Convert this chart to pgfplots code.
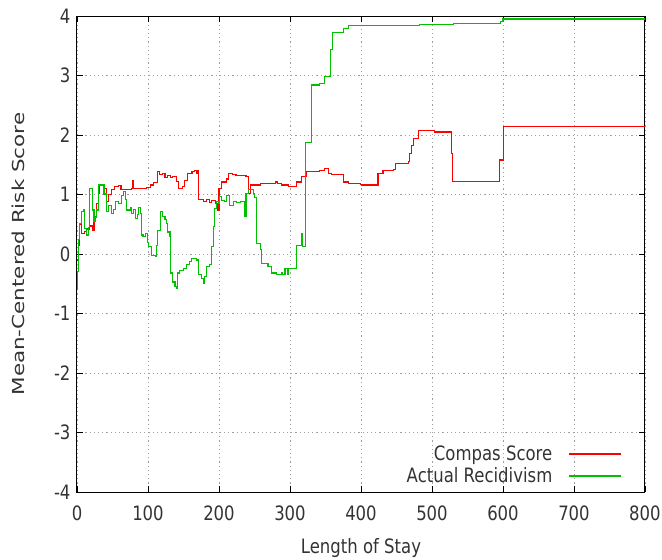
\documentclass[border=0pt]{standalone}
\usepackage{pgfplots}
\pgfplotsset{compat=1.18}
\usepackage{fontspec}
\setmainfont{DejaVu Sans}
\usepackage{graphicx}
\definecolor{compasred}{RGB}{255,0,0}
\definecolor{recidgreen}{RGB}{0,192,0}
\definecolor{gridgray}{RGB}{160,160,160}
\newcommand\fsz{\fontsize{16.5}{19.8}\selectfont}
\newcommand\vs[1]{\scalebox{1}[1.2]{#1}}

\begin{document}
\begin{tikzpicture}
\useasboundingbox (-77pt,-68pt) rectangle (585pt,492pt);
\begin{axis}[
  scale only axis, width=568pt, height=476pt,
  at={(0,0)}, anchor=south west,
  xmin=0, xmax=800, ymin=-4, ymax=4,
  xtick={0,100,...,800}, ytick={-4,-3,...,4},
  xticklabels={\vs{0},\vs{100},\vs{200},\vs{300},\vs{400},\vs{500},\vs{600},\vs{700},\vs{800}},
  yticklabels={\vs{-4},\vs{-3},\vs{-2},\vs{-1},\vs{0},\vs{1},\vs{2},\vs{3},\vs{4}},
  every tick label/.append style={font=\fsz, text=black!80},
  xticklabel style={yshift=-10pt},
  yticklabel style={xshift=-3pt},
  tick align=inside, major tick length=6pt,
  tick style={black, line width=0.9pt},
  axis line style={black, line width=1pt},
  grid=major,
  major grid style={gridgray, line width=0.9pt, dash pattern=on 1.2pt off 3pt},
  xlabel={\vs{Length of Stay}},
  xlabel style={font=\fsz, text=black!80, at={(axis description cs:0.5,0)}, anchor=base, yshift=-61pt},
  ylabel={\scalebox{1.3}[1]{Mean-Centered Risk Score}},
  ylabel style={font=\fsz, text=black!80, at={(axis description cs:-0.104,0.5)}, anchor=center},
  legend style={at={(axis description cs:0.9595,0.0158)}, anchor=south east,
    draw=none, fill=none, inner sep=0pt, row sep=5.5pt, column sep=16pt,
    font=\fsz, text=black!80, nodes={inner sep=0pt}},
  legend cell align=right, legend plot pos=right,
  legend image code/.code={\draw[#1, line width=1.5pt] (0pt,0pt) -- (52pt,0pt);},
  every axis plot/.append style={line width=1.1pt, const plot mark left},
]
% Compas score, mean-centred
\addplot[color=compasred] coordinates {
(0,-0.1) (2,0.15) (4,0.5) (6,0.35) (10,0.38) (14,0.42) (18,0.47) (22,0.40)
(24,0.63) (27,0.85) (30,1.02) (32,1.16) (38,1.10) (41,1.0) (42,0.88) (45,1.0)
(48,1.08) (53,1.13) (59,1.15) (62,1.09) (70,1.08) (77,1.10) (78,1.24) (80,1.10)
(92,1.10) (98,1.12) (104,1.16) (108,1.20) (113,1.38) (116,1.33) (120,1.35)
(124,1.29) (128,1.32) (132,1.28) (135,1.31) (140,1.22) (143,1.10) (148,1.14)
(152,1.24) (156,1.36) (162,1.38) (166,1.41) (169,1.36) (170,1.41) (171,0.91)
(178,0.88) (182,0.91) (186,0.86) (190,0.90) (195,0.85) (198,0.74) (200,1.10)
(203,1.21) (210,1.26) (214,1.36) (219,1.33) (224,1.32) (238,1.30) (241,1.02)
(245,1.16) (258,1.19) (279,1.21) (283,1.19) (288,1.16) (298,1.13) (309,1.21)
(316,1.30) (323,1.39) (342,1.41) (349,1.44) (354,1.36) (358,1.34) (375,1.21)
(382,1.19) (399,1.17) (401,1.16) (424,1.36) (431,1.41) (446,1.42) (448,1.52)
(467,1.56) (468,1.69) (471,1.83) (474,1.94) (481,2.08) (504,2.05) (528,1.69)
(529,1.22) (595,1.58) (601,2.15) (800,2.15)
};
\addlegendentry{\vs{Compas Score}}
% Actual recidivism, mean-centred
\addplot[color=recidgreen] coordinates {
(0,-0.6) (1,-0.3) (2,0.24) (4,0.52) (6,0.71) (9,0.74) (11,0.43) (14,0.32)
(16,0.45) (18,1.10) (21,1.10) (22,0.74) (24,0.55) (26,0.62) (28,0.74) (30,1.16)
(35,1.16) (38,1.0) (40,1.02) (42,0.71) (45,0.82) (49,0.68) (51,0.75) (54,0.88)
(59,0.85) (63,0.99) (66,1.05) (68,0.91) (70,0.74) (75,0.78) (77,0.68) (80,0.75)
(82,0.60) (85,0.66) (87,0.78) (89,0.68) (91,0.32) (93,0.29) (96,0.35) (99,0.20)
(101,0.12) (105,-0.02) (110,-0.04) (112,0.15) (114,0.40) (117,0.71) (121,0.63)
(124,0.58) (126,0.52) (128,0.37) (131,0.29) (132,-0.32) (134,-0.47) (138,-0.55)
(140,-0.58) (141,-0.32) (145,-0.28) (150,-0.24) (154,-0.18) (158,-0.12)
(161,-0.07) (165,-0.08) (168,-0.10) (171,-0.35) (175,-0.41) (178,-0.49)
(180,-0.38) (182,-0.21) (186,-0.18) (190,0.12) (192,0.46) (194,0.77) (197,0.88)
(199,0.85) (201,0.96) (204,0.90) (208,0.88) (211,0.99) (215,0.82) (220,0.88)
(225,0.86) (230,0.88) (236,0.63) (238,1.02) (241,1.08) (248,1.02) (250,0.95)
(253,0.18) (258,0.07) (260,-0.16) (269,-0.21) (274,-0.32) (281,-0.35)
(288,-0.32) (290,-0.35) (293,-0.24) (296,-0.35) (298,-0.24) (309,0.14)
(316,0.34) (317,0.12) (322,1.88) (330,2.84) (342,2.87) (348,2.98) (357,3.43)
(360,3.72) (375,3.79) (383,3.84) (482,3.86) (530,3.88) (596,3.91) (600,3.95)
(800,3.95)
};
\addlegendentry{\vs{Actual Recidivism}}
\end{axis}
\end{tikzpicture}
\end{document}
